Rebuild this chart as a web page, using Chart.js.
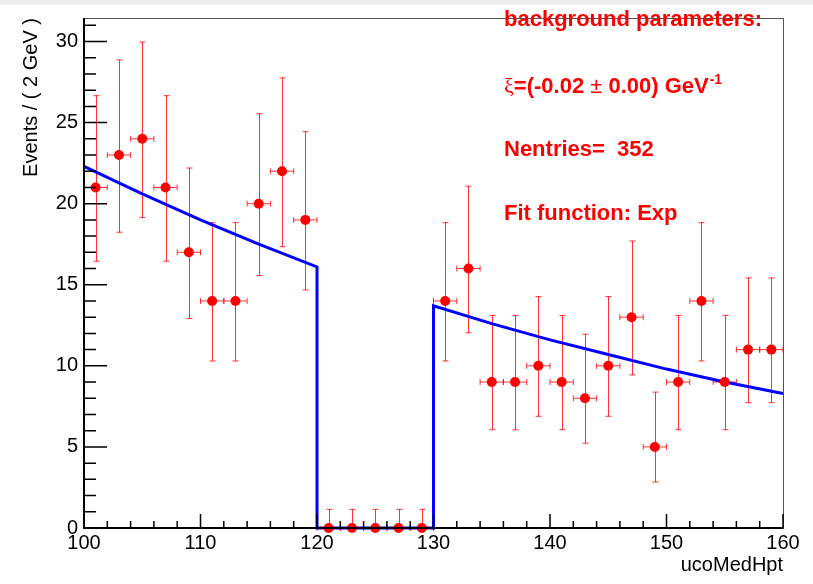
<!DOCTYPE html>
<html>
<head>
<meta charset="utf-8">
<script src="https://cdn.jsdelivr.net/npm/chart.js@4.4.0/dist/chart.umd.min.js"></script>
<style>
  html, body { margin: 0; padding: 0; background: #fff; }
  #wrap { width: 813px; height: 584px; }
</style>
</head>
<body>
<div id="wrap"><canvas id="myChart" width="813" height="584"></canvas></div>
<script>
// bins of 2 GeV, events per bin
const binCenters = [101, 103, 105, 107, 109, 111, 113, 115, 117, 119,
                    121, 123, 125, 127, 129, 131, 133, 135, 137, 139,
                    141, 143, 145, 147, 149, 151, 153, 155, 157, 159];
const counts = [21, 23, 24, 21, 17, 14, 14, 20, 22, 19,
                0, 0, 0, 0, 0, 14, 16, 9, 9, 10,
                9, 8, 10, 13, 5, 9, 14, 9, 11, 11];
// asymmetric (poisson) error bars, down / up
const errLow = [4.55, 4.76, 4.86, 4.55, 4.08, 3.70, 3.70, 4.43, 4.65, 4.32,
                0, 0, 0, 0, 0, 3.70, 3.96, 2.94, 2.94, 3.11,
                2.94, 2.77, 3.11, 3.56, 2.16, 2.94, 3.70, 2.94, 3.27, 3.27];
const errHigh = [5.66, 5.87, 5.97, 5.66, 5.20, 4.83, 4.83, 5.55, 5.76, 5.44,
                 1.15, 1.15, 1.15, 1.15, 1.15, 4.83, 5.08, 4.11, 4.11, 4.27,
                 4.11, 3.95, 4.27, 4.70, 3.38, 4.11, 4.83, 4.11, 4.42, 4.42];
const binHalfWidth = 1;

// fitted exponential (blinded 120-130)
const fitX = [100, 105, 110, 115, 120, 120, 130, 130, 135, 140, 145, 150, 155, 160];
const fitY = [22.3, 20.6, 19.0, 17.5, 16.1, 0, 0, 13.7, 12.6, 11.6, 10.7, 9.8, 9.0, 8.3];

const xTicks = [100, 110, 120, 130, 140, 150, 160];
const yTicks = [0, 5, 10, 15, 20, 25, 30];
const xMinorStep = 2;
const yMinorStep = 1;

const FONT = 'Liberation Sans, Arial, Helvetica, sans-serif';

const rootFrame = {
    id: 'rootFrame',
    beforeDraw(chart) {
        const c = chart.ctx;
        c.save();
        c.fillStyle = '#ffffff';
        c.fillRect(0, 0, chart.width, chart.height);
        c.fillStyle = '#ececec';
        c.fillRect(0, 0, chart.width, 5);
        c.restore();
    },
    beforeDatasetsDraw(chart) {
        const c = chart.ctx;
        const xs = chart.scales.x, ys = chart.scales.y;
        c.save();
        c.strokeStyle = 'rgba(255,0,0,0.8)';
        c.lineWidth = 1;
        binCenters.forEach((x, i) => {
            const px = Math.round(xs.getPixelForValue(x)) + 0.5;
            const py = ys.getPixelForValue(counts[i]);
            const yTop = ys.getPixelForValue(counts[i] + errHigh[i]);
            const yBot = ys.getPixelForValue(counts[i] - errLow[i]);
            const xl = xs.getPixelForValue(x - binHalfWidth);
            const xr = xs.getPixelForValue(x + binHalfWidth);
            c.beginPath();
            c.moveTo(px, yTop); c.lineTo(px, yBot);
            c.moveTo(px - 3, yTop); c.lineTo(px + 3, yTop);
            if (errLow[i] > 0) { c.moveTo(px - 3, yBot); c.lineTo(px + 3, yBot); }
            c.moveTo(xl, py); c.lineTo(xr, py);
            c.moveTo(xl, py - 3); c.lineTo(xl, py + 3);
            c.moveTo(xr, py - 3); c.lineTo(xr, py + 3);
            c.stroke();
        });
        c.restore();
    },
    afterDraw(chart) {
        const c = chart.ctx;
        const a = chart.chartArea;
        const xs = chart.scales.x, ys = chart.scales.y;
        c.save();
        // frame
        c.strokeStyle = '#555';
        c.lineWidth = 1;
        c.strokeRect(a.left + 0.5, a.top + 0.5, a.right - a.left, a.bottom - a.top);
        c.strokeStyle = '#000';
        c.lineWidth = 2;
        c.beginPath();
        c.moveTo(a.left, a.top); c.lineTo(a.left, a.bottom); c.lineTo(a.right, a.bottom);
        c.stroke();
        // ticks inside the frame
        c.lineWidth = 1.5;
        c.beginPath();
        for (let v = xs.min; v <= xs.max + 1e-9; v += xMinorStep) {
            const px = xs.getPixelForValue(v);
            const len = xTicks.includes(v) ? 14 : 7;
            c.moveTo(px, a.bottom); c.lineTo(px, a.bottom - len);
        }
        for (let v = ys.min; v <= ys.max + 1e-9; v += yMinorStep) {
            const py = ys.getPixelForValue(v);
            const len = yTicks.includes(v) ? 23 : 12;
            c.moveTo(a.left, py); c.lineTo(a.left + len, py);
        }
        c.stroke();

        // fit info box
        c.fillStyle = '#ff0000';
        c.textBaseline = 'alphabetic';
        c.textAlign = 'left';
        const x0 = 504;
        c.font = 'bold 22px ' + FONT;
        c.fillText('background parameters:', x0, 26);
        let x = x0;
        c.font = '22px Liberation Serif, serif';
        c.fillText('ξ', x, 93); x += c.measureText('ξ').width;
        c.font = 'bold 22px ' + FONT;
        c.fillText('=(-0.02 ', x, 93); x += c.measureText('=(-0.02 ').width;
        c.font = '22px ' + FONT;
        c.fillText('±', x, 93); x += c.measureText('±').width;
        c.font = 'bold 22px ' + FONT;
        c.fillText(' 0.00) GeV', x, 93); x += c.measureText(' 0.00) GeV').width;
        c.font = 'bold 14px ' + FONT;
        c.fillText('-1', x + 1, 84);
        c.font = 'bold 22px ' + FONT;
        c.fillText('Nentries=  352', x0, 156);
        c.fillText('Fit function: Exp', x0, 220);
        c.restore();
    }
};

const ctx = document.getElementById('myChart').getContext('2d');
const myChart = new Chart(ctx, {
    type: 'scatter',
    data: {
        datasets: [{
            type: 'scatter',
            data: binCenters.map((x, i) => ({ x: x, y: counts[i] })),
            pointRadius: 5,
            pointBackgroundColor: '#ff0000',
            pointBorderColor: '#ff0000',
            pointBorderWidth: 0,
            clip: false,
            order: 0
        }, {
            type: 'line',
            data: fitX.map((x, i) => ({ x: x, y: fitY[i] })),
            borderColor: '#0000ff',
            borderWidth: 3,
            pointRadius: 0,
            tension: 0,
            fill: false,
            clip: false,
            order: 1
        }]
    },
    options: {
        responsive: false,
        animation: false,
        layout: { padding: { left: 0, top: 11, right: 30, bottom: 0 } },
        plugins: { legend: { display: false }, tooltip: { enabled: false } },
        scales: {
            x: {
                type: 'linear',
                min: 100,
                max: 160,
                afterBuildTicks: s => { s.ticks = xTicks.map(v => ({ value: v })); },
                afterFit: s => { s.height = 56; },
                grid: { display: false, drawTicks: false },
                border: { display: false },
                ticks: { font: { family: FONT, size: 20 }, color: '#000', padding: 3, maxRotation: 0, autoSkip: false },
                title: { display: true, text: 'ucoMedHpt', align: 'end', color: '#000',
                         font: { family: FONT, size: 20 }, padding: { top: 0, bottom: 7 } }
            },
            y: {
                type: 'linear',
                min: 0,
                max: 31.45,
                afterBuildTicks: s => { s.ticks = yTicks.map(v => ({ value: v })); },
                afterFit: s => { s.width = 84; },
                grid: { display: false, drawTicks: false },
                border: { display: false },
                ticks: { font: { family: FONT, size: 20 }, color: '#000', padding: 6 },
                title: { display: true, text: 'Events / ( 2 GeV )', align: 'end', color: '#000',
                         font: { family: FONT, size: 20 }, padding: { top: 19, bottom: 0 } }
            }
        }
    },
    plugins: [rootFrame]
});
</script>
</body>
</html>
